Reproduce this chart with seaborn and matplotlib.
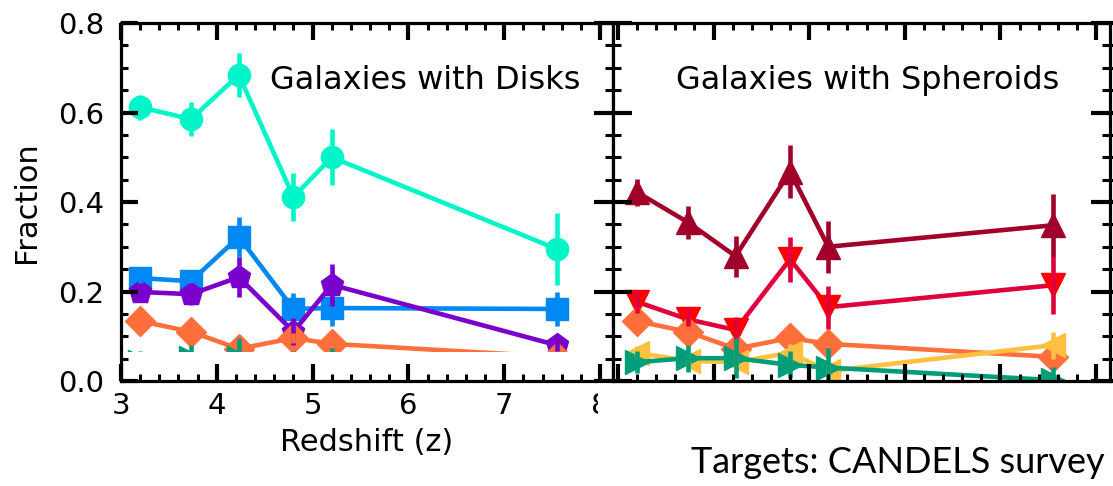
import matplotlib
matplotlib.use("Agg")
import matplotlib.pyplot as plt
import matplotlib.transforms as mtransforms
from matplotlib.patches import Rectangle
from matplotlib.ticker import MultipleLocator, FormatStrFormatter
import seaborn as sns

# Redshift bins (shared by both panels)
redshift = [3.2, 3.73, 4.23, 4.8, 5.2, 7.55]

# Galaxies with disks
disk_cyan = [0.612, 0.585, 0.684, 0.411, 0.500, 0.295]
disk_cyan_err = [0.028, 0.038, 0.049, 0.053, 0.063, 0.080]
disk_blue = [0.230, 0.223, 0.322, 0.161, 0.163, 0.161]
disk_blue_err = [0.020, 0.020, 0.045, 0.035, 0.040, 0.038]
disk_purple = [0.199, 0.194, 0.232, 0.110, 0.215, 0.080]
disk_purple_err = [0.020, 0.025, 0.045, 0.030, 0.047, 0.020]

# Galaxies with spheroids
sph_darkred = [0.422, 0.355, 0.279, 0.468, 0.300, 0.348]
sph_darkred_err = [0.030, 0.037, 0.046, 0.060, 0.058, 0.070]
sph_red = [0.177, 0.138, 0.114, 0.272, 0.165, 0.214]
sph_red_err = [0.025, 0.025, 0.030, 0.050, 0.048, 0.065]
sph_yellow = [0.063, 0.045, 0.042, 0.063, 0.022, 0.080]
sph_yellow_err = [0.015, 0.015, 0.015, 0.020, 0.015, 0.030]

# Classes shown in both panels
both_orange = [0.134, 0.110, 0.072, 0.096, 0.083, 0.054]
both_orange_err = [0.012, 0.012, 0.012, 0.012, 0.012, 0.012]
both_green = [0.042, 0.051, 0.051, 0.036, 0.030, 0.002]
both_green_err = [0.025, 0.030, 0.045, 0.030, 0.044, 0.030]

y_ticks = [0.0, 0.2, 0.4, 0.6, 0.8]
x_ticks = [3, 4, 5, 6, 7, 8]

sns.set_theme(style="white")
plt.rcParams['font.family'] = ['DejaVu Sans']
plt.rcParams.update({"text.color": "black", "axes.labelcolor": "black",
                     "xtick.color": "black", "ytick.color": "black"})

W, H = 1113, 486
fig = plt.figure(figsize=(W / 100, H / 100), dpi=100)
fig.patch.set_facecolor("white")
ax_l = fig.add_axes([121 / W, 105 / H, 492 / W, 358 / H], zorder=0)
ax_r = fig.add_axes([613 / W, 105 / H, 497 / W, 358 / H], zorder=2)


def draw(ax, y, err, color, marker, ms, face=None):
    face = face or color
    sns.lineplot(x=redshift, y=y, ax=ax, color=color, linewidth=3.3,
                 marker=marker, markersize=ms, markerfacecolor=face,
                 markeredgecolor=face, markeredgewidth=1, zorder=2)
    ax.errorbar(redshift, y, yerr=err, fmt='none', ecolor=color,
                elinewidth=3.3, capsize=0, zorder=2.1)


# Left panel: disks
draw(ax_l, disk_cyan, disk_cyan_err, "#00F5C8", "o", 16)
draw(ax_l, disk_blue, disk_blue_err, "#0088F5", "s", 16)
draw(ax_l, disk_purple, disk_purple_err, "#7A00CC", "p", 17)
draw(ax_l, both_orange, both_orange_err, "#FF6F3C", "D", 15)
draw(ax_l, both_green, both_green_err, "#009E78", ">", 17)

# Right panel: spheroids
draw(ax_r, sph_darkred, sph_darkred_err, "#A1002A", "^", 17)
draw(ax_r, sph_red, sph_red_err, "#E0003C", "v", 17, face="#FF0000")
draw(ax_r, both_orange, both_orange_err, "#FF6F3C", "D", 15)
draw(ax_r, sph_yellow, sph_yellow_err, "#FFC040", "<", 17)
draw(ax_r, both_green, both_green_err, "#009E78", ">", 17)

# white band along the bottom of the disk panel
band = mtransforms.blended_transform_factory(ax_l.transAxes, ax_l.transData)
ax_l.add_patch(Rectangle((0.008, 0.0), 0.992, 0.064, transform=band,
                         facecolor="white", edgecolor="none", zorder=2.4))

for ax in (ax_l, ax_r):
    ax.set_facecolor("white")
    ax.set_axisbelow(False)
    ax.set_ylim(0, 0.8)
    ax.set_yticks(y_ticks)
    ax.xaxis.set_major_locator(MultipleLocator(1))
    ax.xaxis.set_minor_locator(MultipleLocator(0.2))
    ax.yaxis.set_minor_locator(MultipleLocator(0.05))
    ax.set_xlabel("")
    ax.set_ylabel("")
    for sp in ax.spines.values():
        sp.set_color("black")
        sp.set_linewidth(2.3)
        sp.set_visible(True)

ax_l.set_xlim(3, 3 + 492 / 95.8)
ax_l.set_xticks(x_ticks)
ax_l.yaxis.set_major_formatter(FormatStrFormatter("%.1f"))
ax_l.tick_params(which="major", direction="in", length=12, width=3,
                 top=True, bottom=True, left=True, right=False,
                 labelsize=21, colors="black")
ax_l.tick_params(which="minor", direction="in", length=5, width=2.2,
                 top=True, bottom=True, left=True, right=False, colors="black")
ax_l.tick_params(axis="x", which="major", pad=8)
ax_l.tick_params(axis="y", which="major", pad=12)
ax_l.set_xlabel("Redshift (z)", fontsize=22, labelpad=6, color="black")
ax_l.set_ylabel("Fraction", fontsize=22, labelpad=12, color="black")
ax_l.text(0.303, 0.84, "Galaxies with Disks", transform=ax_l.transAxes,
          fontsize=23, va="center", ha="left", color="black")

ax_r.set_xlim(2.949, 8.146)
ax_r.tick_params(axis="x", which="major", direction="in", length=12, width=3,
                 top=True, bottom=True, labelbottom=False, colors="black")
ax_r.tick_params(axis="x", which="minor", direction="in", length=5, width=2.2,
                 top=True, bottom=True, colors="black")
ax_r.tick_params(axis="y", which="major", direction="inout", length=28, width=3,
                 left=True, right=True, labelleft=False, colors="black")
ax_r.tick_params(axis="y", which="minor", direction="inout", length=11, width=2.2,
                 left=True, right=True, colors="black")
ax_r.text(0.127, 0.84, "Galaxies with Spheroids", transform=ax_r.transAxes,
          fontsize=23, va="center", ha="left", color="black")

# blank strip under the spheroid panel
fig.add_artist(Rectangle((598 / W, 0), 1, 103 / H, transform=fig.transFigure,
                         facecolor="white", edgecolor="none", zorder=1))
fig.text(1105 / W, (486 - 462) / H, "Targets: CANDELS survey",
         family=["Lato", "DejaVu Sans"], fontsize=26, ha="right", va="center",
         color="black", zorder=3)

fig.savefig("out.png", dpi=100, facecolor="white")
